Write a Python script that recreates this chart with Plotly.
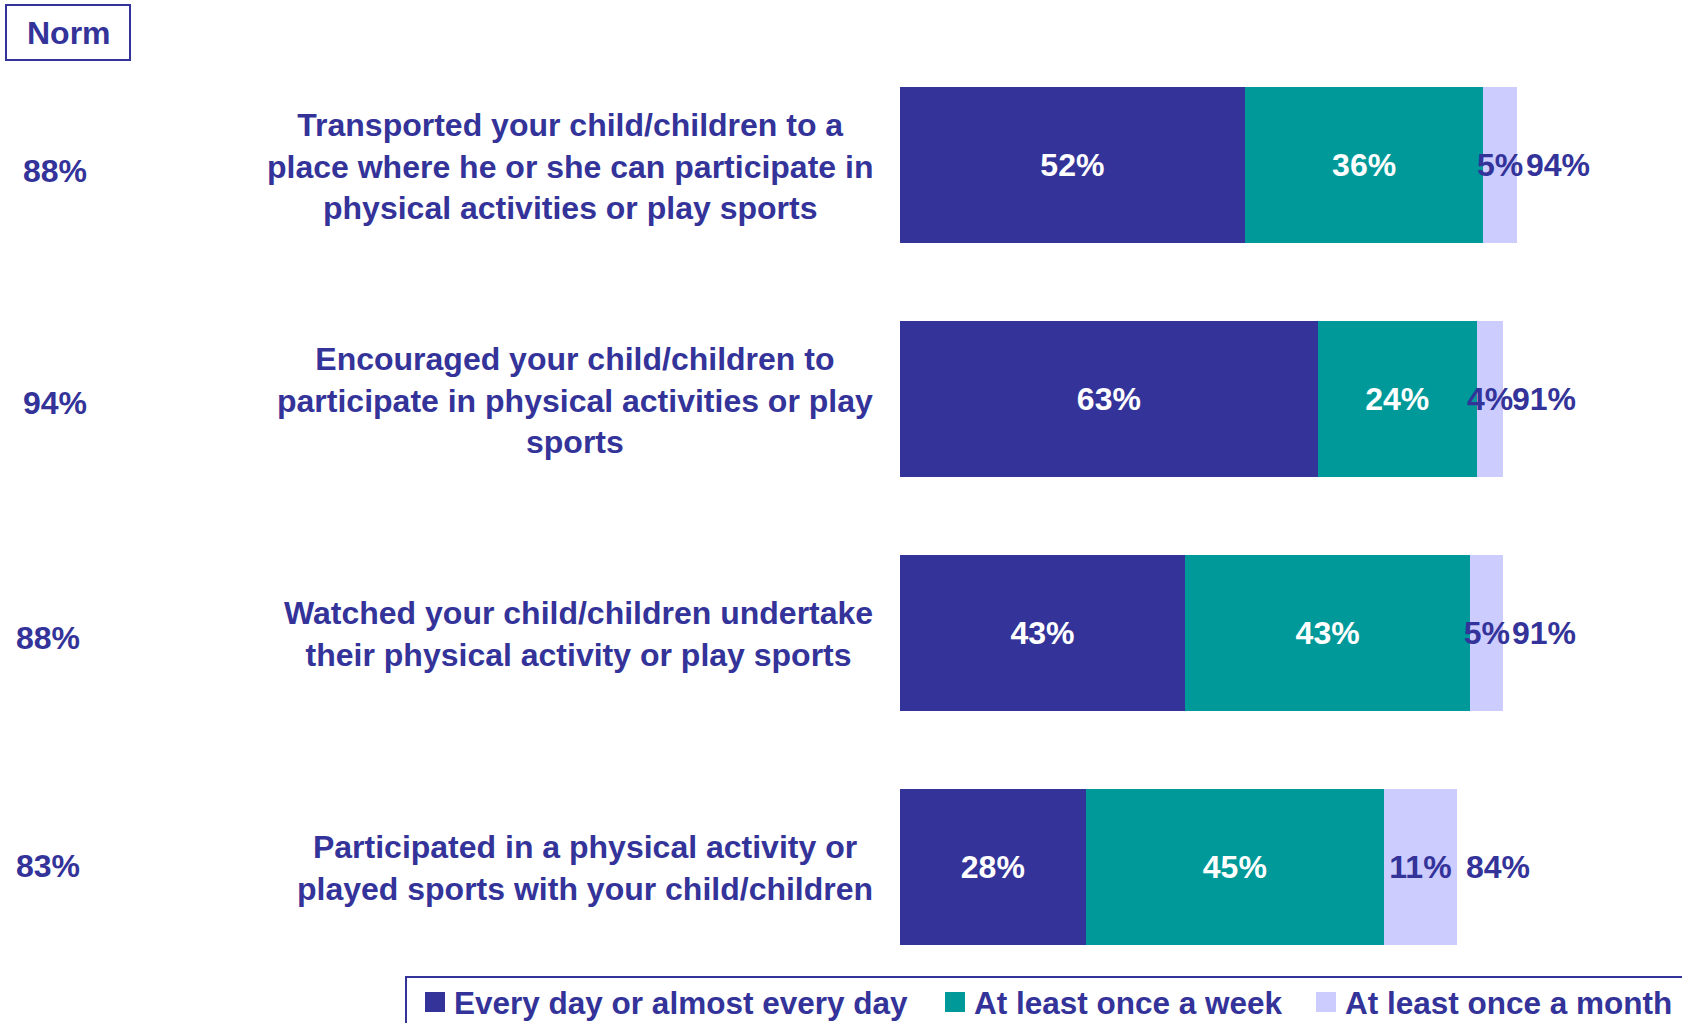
import plotly.graph_objects as go

# Survey items (top to bottom)
items = [
    "Transported your child/children to a<br>place where he or she can participate in<br>physical activities or play sports",
    "Encouraged your child/children to<br>participate in physical activities or play<br>sports",
    "Watched your child/children undertake<br>their physical activity or play sports",
    "Participated in a physical activity or<br>played sports with your child/children",
]
item_keys = ["transport", "encourage", "watch", "participate"]

every_day = [52, 63, 43, 28]
weekly = [36, 24, 43, 45]
monthly = [5, 4, 5, 11]
totals = [94, 91, 91, 84]
norms = [88, 94, 88, 83]

series_names = ["Every day or almost every day", "At least once a week", "At least once a month"]

NAVY = "#333399"
TEAL = "#009999"
LAVENDER = "#CCCCFF"
FONT = "Liberation Sans, Arial, Helvetica, sans-serif"

W, H = 1682, 1023
PLOT_L, PLOT_R = 900, 1563
PLOT_T, PLOT_B = 48, 984


def px_x(px):
    return (px - PLOT_L) / (PLOT_R - PLOT_L)


def px_y(py):
    return (PLOT_B - py) / (PLOT_B - PLOT_T)


fig = go.Figure()

for vals, name, color, txtcolor in [
    (every_day, series_names[0], NAVY, "white"),
    (weekly, series_names[1], TEAL, "white"),
    (monthly, series_names[2], LAVENDER, NAVY),
]:
    fig.add_trace(go.Bar(
        y=item_keys, x=vals, orientation="h", name=name,
        marker=dict(color=color, line=dict(width=0)),
        text=[f"{v}%" for v in vals],
        textposition="inside", insidetextanchor="middle",
        textangle=0, constraintext="none", cliponaxis=False,
        insidetextfont=dict(family=FONT, size=32, weight="bold", color=txtcolor),
        showlegend=False, hoverinfo="skip",
    ))

annotations = []
label_font = dict(family=FONT, size=32, color=NAVY, weight="bold")

# Item labels, right-aligned block with centred lines
for key, txt in zip(item_keys, items):
    annotations.append(dict(
        x=0, y=key, xref="x", yref="y", text=txt, showarrow=False,
        xanchor="right", yanchor="middle", align="center", xshift=-25, yshift=-1,
        font=label_font,
    ))

# Totals just past the end of each bar
for key, a, b, c, t in zip(item_keys, every_day, weekly, monthly, totals):
    annotations.append(dict(
        x=a + b + c, y=key, xref="x", yref="y", text=f"{t}%", showarrow=False,
        xanchor="left", yanchor="middle", xshift=7, font=label_font,
    ))

# Norm column on the far left
norm_x = [21, 21, 14, 14]
norm_dy = [-6, -4, -5, 1]
for key, n, nx, dy in zip(item_keys, norms, norm_x, norm_dy):
    annotations.append(dict(
        x=px_x(nx), y=key, xref="paper", yref="y", text=f"{n}%", showarrow=False,
        xanchor="left", yanchor="middle", yshift=dy,
        font=dict(family=FONT, size=32, color=NAVY, weight="bold"),
    ))

annotations.append(dict(
    x=px_x(68.5), y=px_y(33), xref="paper", yref="paper", text="Norm",
    showarrow=False, xanchor="center", yanchor="middle", font=label_font,
))

shapes = [
    dict(type="rect", xref="paper", yref="paper",
         x0=px_x(6), x1=px_x(130), y0=px_y(5), y1=px_y(60),
         line=dict(color=NAVY, width=2), fillcolor="rgba(0,0,0,0)"),
    dict(type="rect", xref="paper", yref="paper",
         x0=px_x(406), x1=px_x(1700), y0=px_y(977), y1=px_y(1040),
         line=dict(color=NAVY, width=2), fillcolor="rgba(0,0,0,0)"),
]

# Legend row
legend_marks = [(425, NAVY), (945, TEAL), (1316, LAVENDER)]
legend_text_x = [452, 972, 1343]
legend_font = dict(family=FONT, size=31.5, color=NAVY, weight="bold")
for (mx, col), tx, name in zip(legend_marks, legend_text_x, series_names):
    shapes.append(dict(type="rect", xref="paper", yref="paper",
                       x0=px_x(mx), x1=px_x(mx + 20), y0=px_y(992), y1=px_y(1012),
                       line=dict(width=0), fillcolor=col))
    annotations.append(dict(
        x=px_x(tx), y=px_y(1003), xref="paper", yref="paper", text=name,
        showarrow=False, xanchor="left", yanchor="middle", font=legend_font,
    ))

fig.update_layout(
    width=W, height=H,
    margin=dict(l=PLOT_L, r=W - PLOT_R, t=PLOT_T, b=H - PLOT_B, pad=0),
    barmode="stack", bargap=0.335,
    plot_bgcolor="white", paper_bgcolor="white",
    xaxis=dict(range=[0, 100], visible=False, fixedrange=True),
    yaxis=dict(type="category", categoryarray=item_keys, range=[3.5, -0.5],
               visible=False, fixedrange=True),
    annotations=annotations, shapes=shapes,
    font=dict(family=FONT, color=NAVY),
)

fig.write_html("out.html", config={"displayModeBar": False})
